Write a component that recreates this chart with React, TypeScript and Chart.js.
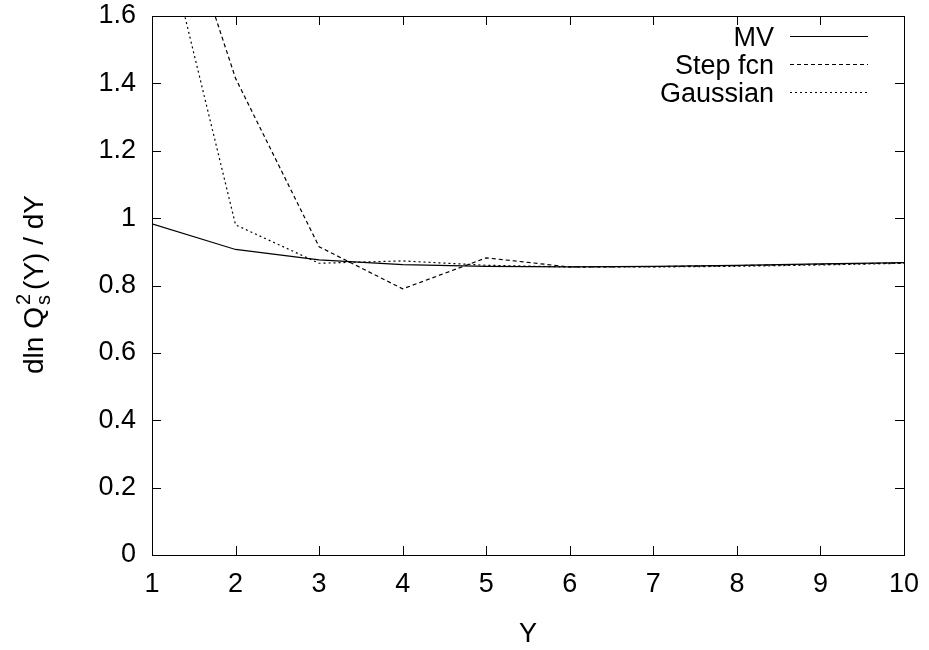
import React, { useEffect, useRef } from "react";
import { Chart, registerables } from "chart.js";

Chart.register(...registerables);

const xValues = [1, 2, 3, 4, 5, 6, 7, 8, 9, 10];
const mvValues = [0.983, 0.907, 0.876, 0.862, 0.857, 0.855, 0.857, 0.86, 0.864, 0.868];
const stepValues = [2.17, 1.415, 0.915, 0.79, 0.882, 0.855, 0.856, 0.859, 0.863, 0.867];
const gaussValues = [2.0, 0.98, 0.866, 0.873, 0.86, 0.855, 0.855, 0.857, 0.861, 0.866];
const seriesNames = ["MV", "Step fcn", "Gaussian"];
const xTicks = [1, 2, 3, 4, 5, 6, 7, 8, 9, 10];
const yTicks = [0, 0.2, 0.4, 0.6, 0.8, 1, 1.2, 1.4, 1.6];
const xTitle = "Y";

const FONT = "'Liberation Sans', Arial, Helvetica, sans-serif";
const FS = 27;
const dashes = [[], [4, 3], [2, 3]];

const framePlugin = {
  id: "gnuframe",
  afterDraw(chart: any) {
    const { ctx, chartArea: a, scales } = chart;
    const xs = scales.x;
    const ys = scales.y;
    ctx.save();
    ctx.strokeStyle = "#000";
    ctx.lineWidth = 1;
    ctx.setLineDash([]);
    ctx.strokeRect(Math.round(a.left) + 0.5, Math.round(a.top) + 0.5, Math.round(a.right - a.left), Math.round(a.bottom - a.top));
    const tl = 9;
    ctx.beginPath();
    xTicks.forEach((v) => {
      const px = Math.round(xs.getPixelForValue(v)) + 0.5;
      ctx.moveTo(px, a.bottom);
      ctx.lineTo(px, a.bottom - tl);
      ctx.moveTo(px, a.top);
      ctx.lineTo(px, a.top + tl);
    });
    yTicks.forEach((v) => {
      const py = Math.round(ys.getPixelForValue(v)) + 0.5;
      ctx.moveTo(a.left, py);
      ctx.lineTo(a.left + tl, py);
      ctx.moveTo(a.right, py);
      ctx.lineTo(a.right - tl, py);
    });
    ctx.stroke();

    // legend
    ctx.font = `${FS}px ${FONT}`;
    ctx.fillStyle = "#000";
    ctx.textAlign = "right";
    ctx.textBaseline = "alphabetic";
    const legendYs = [36, 64, 92];
    seriesNames.forEach((name, i) => {
      const y = legendYs[i];
      ctx.fillText(name, 774, y + 10);
      ctx.beginPath();
      ctx.setLineDash(dashes[i]);
      ctx.lineWidth = 1.2;
      ctx.moveTo(790, y + 0.5);
      ctx.lineTo(868, y + 0.5);
      ctx.stroke();
    });
    ctx.setLineDash([]);

    // x title
    ctx.textAlign = "center";
    ctx.textBaseline = "alphabetic";
    ctx.fillText(xTitle, (a.left + a.right) / 2, 642);

    // y title with sub/superscript
    ctx.save();
    ctx.translate(43, (a.top + a.bottom) / 2);
    ctx.rotate(-Math.PI / 2);
    ctx.textAlign = "left";
    ctx.textBaseline = "alphabetic";
    const big = `28px ${FONT}`;
    const small = `20px ${FONT}`;
    const p1 = "dln Q";
    const p3 = "(Y) / dY";
    ctx.font = big;
    const w1 = ctx.measureText(p1).width;
    const w3 = ctx.measureText(p3).width;
    ctx.font = small;
    const ws = Math.max(ctx.measureText("s").width, ctx.measureText("2").width) + 4;
    const total = w1 + ws + w3;
    let x = -total / 2;
    ctx.font = big;
    ctx.fillText(p1, x, 0);
    x += w1 + 2;
    ctx.font = small;
    ctx.fillText("s", x, 7);
    ctx.fillText("2", x, -13);
    x += ws;
    ctx.font = big;
    ctx.fillText(p3, x, 0);
    ctx.restore();

    ctx.restore();
  },
};

export default function App() {
  const ref = useRef<HTMLCanvasElement>(null);
  useEffect(() => {
    if (!ref.current) return;
    const mk = (label: string, data: number[], i: number) => ({
      label,
      data: xValues.map((x, k) => ({ x, y: data[k] })),
      borderColor: "#000",
      backgroundColor: "#000",
      borderWidth: 1.2,
      borderDash: dashes[i],
      pointRadius: 0,
      tension: 0,
      fill: false,
    });
    const chart = new Chart(ref.current, {
      type: "line",
      data: {
        datasets: [
          mk(seriesNames[0], mvValues, 0),
          mk(seriesNames[1], stepValues, 1),
          mk(seriesNames[2], gaussValues, 2),
        ],
      },
      options: {
        animation: false,
        responsive: false,
        maintainAspectRatio: false,
        layout: { padding: { left: 0, top: 16, right: 25, bottom: 0 } },
        plugins: { legend: { display: false }, tooltip: { enabled: false } },
        scales: {
          x: {
            type: "linear",
            min: 1,
            max: 10,
            afterFit: (s: any) => {
              s.height = 95;
              s.paddingLeft = 0;
              s.paddingRight = 0;
            },
            afterBuildTicks: (s: any) => {
              s.ticks = xTicks.map((v) => ({ value: v }));
            },
            grid: { display: false, drawTicks: false },
            border: { display: false },
            ticks: {
              color: "#000",
              font: { family: FONT, size: FS },
              padding: 13,
              maxRotation: 0,
              callback: (v: any) => String(v),
            },
          },
          y: {
            type: "linear",
            min: 0,
            max: 1.6,
            afterFit: (s: any) => {
              s.width = 152;
              s.paddingTop = 0;
              s.paddingBottom = 0;
            },
            afterBuildTicks: (s: any) => {
              s.ticks = yTicks.map((v) => ({ value: v }));
            },
            grid: { display: false, drawTicks: false },
            border: { display: false },
            ticks: {
              color: "#000",
              font: { family: FONT, size: FS },
              padding: 16,
              callback: (v: any) => String(Math.round(Number(v) * 10) / 10),
            },
          },
        },
      },
      plugins: [framePlugin],
    });
    return () => chart.destroy();
  }, []);
  return (
    <div style={{ position: "fixed", left: 0, top: 0, width: 929, height: 650, background: "#fff" }}>
      <canvas ref={ref} width={929} height={650} style={{ width: 929, height: 650, display: "block" }} />
    </div>
  );
}
